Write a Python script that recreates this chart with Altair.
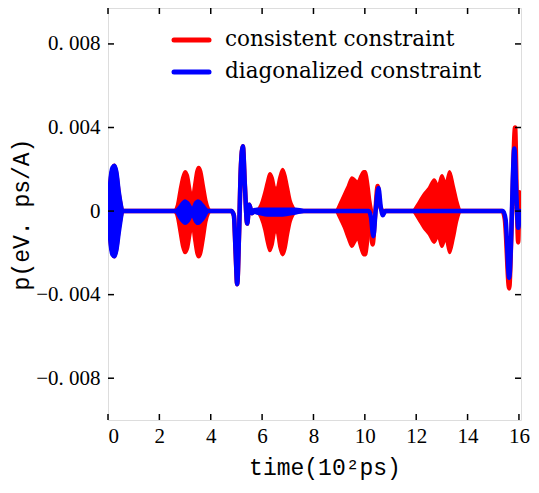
import altair as alt
import pandas as pd

# ---------------- data ----------------
SERIES = ["consistent constraint", "diagonalized constraint"]
COLORS = ["#ff0000", "#0000ff"]

X_TICKS = [0, 2, 4, 6, 8, 10, 12, 14, 16]
Y_TICKS = [-0.008, -0.004, 0.0, 0.004, 0.008]

# smooth (non-oscillating) part of each trace
red_t = [0, 4.8, 4.9, 4.97, 5.03, 5.1, 5.17, 5.25, 5.33, 5.42, 5.5, 5.6, 5.7,
         10.1, 10.2, 10.3, 10.4, 10.5, 10.6, 10.7,
         15.35, 15.45, 15.62, 15.72, 15.85, 15.92, 15.97, 16.02, 16.08]
red_p = [0, 0, -0.0002, -0.0020, -0.0035, -0.0012, 0.0020, 0.0031, 0.0012, -0.0006, 0.0003, -0.0001, 0,
         0, -0.0004, -0.0016, -0.0002, 0.0012, 0.0002, 0,
         0, -0.0004, -0.0037, -0.0005, 0.0040, 0.0003, -0.0015, 0.0009, 0.0]

blue_t = [0, 4.8, 4.9, 4.97, 5.03, 5.1, 5.17, 5.25, 5.33, 5.42, 5.5, 5.6, 5.7,
          10.15, 10.24, 10.33, 10.42, 10.53, 10.62, 10.7, 10.8,
          15.38, 15.48, 15.62, 15.7, 15.76, 15.82, 15.9, 15.97, 16.03]
blue_p = [0, 0, -0.0002, -0.0020, -0.0035, -0.0012, 0.0020, 0.0031, 0.0012, -0.0006, 0.0003, -0.0001, 0,
          0, -0.0003, -0.0012, 0.0, 0.0011, 0.0002, -0.0002, 0,
          0, -0.0004, -0.0032, -0.0012, 0.0015, 0.0030, 0.0008, -0.0008, 0]

# envelopes of the fast oscillation bursts (time, upper, lower)
red_a_t = [0, 0.05, 0.15, 0.25, 0.35, 0.45, 0.57]
red_a_hi = [0, 0.0011, 0.0020, 0.0022, 0.0018, 0.0008, 0]
red_a_lo = [0, -0.0011, -0.0020, -0.0022, -0.0018, -0.0008, 0]

red_b_t = [2.6, 2.7, 2.8, 2.9, 3.0, 3.1, 3.2, 3.28, 3.36, 3.45, 3.53, 3.62, 3.72, 3.82, 3.92, 4.0]
red_b_hi = [0, 0.0003, 0.0010, 0.0016, 0.0019, 0.0017, 0.0010, 0.0006, 0.0012, 0.0019, 0.0021, 0.0019, 0.0012, 0.0005, 0.0001, 0]
red_b_lo = [0, -0.0003, -0.0010, -0.0017, -0.0020, -0.0018, -0.0011, -0.0006, -0.0013, -0.0020, -0.0022, -0.0020, -0.0013, -0.0005, -0.0001, 0]

red_c_t = [5.8, 5.95, 6.1, 6.2, 6.3, 6.4, 6.5, 6.58, 6.68, 6.8, 6.9, 7.0, 7.1, 7.2, 7.3]
red_c_hi = [0, 0.0003, 0.0009, 0.0014, 0.0018, 0.0016, 0.0011, 0.0011, 0.0016, 0.0020, 0.0017, 0.0011, 0.0005, 0.0002, 0]
red_c_lo = [0, -0.0003, -0.0009, -0.0015, -0.0019, -0.0016, -0.0010, -0.0010, -0.0017, -0.0021, -0.0018, -0.0011, -0.0005, -0.0002, 0]

red_d_t = [8.9, 9.05, 9.2, 9.35, 9.5, 9.6, 9.72, 9.85, 9.95, 10.03, 10.12, 10.2, 10.27]
red_d_hi = [0, 0.0004, 0.0008, 0.0012, 0.0016, 0.0015, 0.0014, 0.0017, 0.0019, 0.0019, 0.0013, 0.0005, 0]
red_d_lo = [0, -0.0004, -0.0008, -0.0013, -0.0017, -0.0015, -0.0013, -0.0018, -0.0021, -0.0021, -0.0014, -0.0005, 0]

red_e_t = [11.9, 12.1, 12.3, 12.5, 12.7, 12.85, 13.0, 13.15, 13.3, 13.45, 13.58, 13.7]
red_e_hi = [0, 0.0004, 0.0008, 0.0011, 0.0015, 0.0012, 0.0017, 0.0013, 0.0019, 0.0012, 0.0005, 0]
red_e_lo = [0, -0.0004, -0.0008, -0.0011, -0.0015, -0.0012, -0.0017, -0.0013, -0.0020, -0.0013, -0.0005, 0]

blue_a_t = [0, 0.05, 0.15, 0.25, 0.35, 0.45, 0.57]
blue_a_hi = [0, 0.0012, 0.0021, 0.0022, 0.0019, 0.0009, 0]
blue_a_lo = [0, -0.0012, -0.0021, -0.0022, -0.0019, -0.0010, 0]

blue_b_t = [2.65, 2.78, 2.9, 3.0, 3.12, 3.28, 3.4, 3.5, 3.62, 3.75, 3.88]
blue_b_hi = [0, 0.0002, 0.0004, 0.0005, 0.0004, 0.0001, 0.0004, 0.0005, 0.0004, 0.0002, 0]
blue_b_lo = [0, -0.0003, -0.0005, -0.0006, -0.0005, -0.0002, -0.0005, -0.0006, -0.0005, -0.0003, 0]

blue_c_t = [5.5, 5.8, 6.3, 6.8, 7.3, 7.7]
blue_c_hi = [0, 0.0001, 0.0001, 0.0001, 0.0001, 0]
blue_c_lo = [0, -0.0001, -0.0002, -0.0002, -0.0001, 0]

# ---------------- tables ----------------
def env_df(parts):
    rows = []
    for gid, (ts, hi, lo) in enumerate(parts):
        for t, h, l in zip(ts, hi, lo):
            rows.append({"t": t, "hi": h, "lo": l, "g": gid})
    return pd.DataFrame(rows)

red_env = env_df([(red_a_t, red_a_hi, red_a_lo), (red_b_t, red_b_hi, red_b_lo),
                  (red_c_t, red_c_hi, red_c_lo), (red_d_t, red_d_hi, red_d_lo),
                  (red_e_t, red_e_hi, red_e_lo)])
blue_env = env_df([(blue_a_t, blue_a_hi, blue_a_lo), (blue_b_t, blue_b_hi, blue_b_lo),
                   (blue_c_t, blue_c_hi, blue_c_lo)])

red_line = pd.DataFrame({"t": red_t, "p": red_p})
blue_line = pd.DataFrame({"t": blue_t, "p": blue_p})
xt = pd.DataFrame({"t": X_TICKS})
yt = pd.DataFrame({"p": Y_TICKS})

W, H = 413, 412
NUM_FONT = "Liberation Serif"
TITLE_FONT = "Liberation Mono"
LEG_FONT = "DejaVu Serif"

xscale = alt.Scale(domain=[0, 16.08], nice=False, zero=False)
yscale = alt.Scale(domain=[-0.010, 0.00972], nice=False, zero=False)

xaxis = alt.Axis(values=X_TICKS, title="time(10²ps)", titleX=W / 2 + 10)
yaxis = alt.Axis(values=Y_TICKS, title="p(eV. ps/A)",
                 labelExpr="datum.value == 0 ? '0' : replace(format(datum.value, '.3f'), '.', '. ')")

red_area = alt.Chart(red_env).mark_area(color=COLORS[0], stroke=COLORS[0], strokeWidth=3,
                                        opacity=1, clip=True, interpolate="monotone").encode(
    x=alt.X("t:Q", scale=xscale, axis=xaxis),
    y=alt.Y("hi:Q", scale=yscale, axis=yaxis),
    y2="lo:Q",
    detail="g:N",
)
red_trace = alt.Chart(red_line).mark_line(color=COLORS[0], strokeWidth=4.5, strokeJoin="round",
                                          strokeCap="round", clip=True,
                                          interpolate="monotone").encode(
    x=alt.X("t:Q", scale=xscale),
    y=alt.Y("p:Q", scale=yscale),
)
blue_area = alt.Chart(blue_env).mark_area(color=COLORS[1], stroke=COLORS[1], strokeWidth=3,
                                          opacity=1, clip=True, interpolate="monotone").encode(
    x=alt.X("t:Q", scale=xscale),
    y=alt.Y("hi:Q", scale=yscale),
    y2="lo:Q",
    detail="g:N",
)
blue_trace = alt.Chart(blue_line).mark_line(color=COLORS[1], strokeWidth=4.5, strokeJoin="round",
                                            strokeCap="round", clip=True,
                                            interpolate="monotone").encode(
    x=alt.X("t:Q", scale=xscale),
    y=alt.Y("p:Q", scale=yscale),
)

# inward ticks on all four sides
tick_len = 6
tb = alt.Chart(xt).mark_rule(color="black", strokeWidth=1.5).encode(
    x=alt.X("t:Q", scale=xscale), y=alt.value(H), y2=alt.value(H - tick_len))
tt = alt.Chart(xt).mark_rule(color="black", strokeWidth=1.5).encode(
    x=alt.X("t:Q", scale=xscale), y=alt.value(0), y2=alt.value(tick_len))
tl = alt.Chart(yt).mark_rule(color="black", strokeWidth=1.5).encode(
    y=alt.Y("p:Q", scale=yscale), x=alt.value(0), x2=alt.value(tick_len))
tr = alt.Chart(yt).mark_rule(color="black", strokeWidth=1.5).encode(
    y=alt.Y("p:Q", scale=yscale), x=alt.value(W), x2=alt.value(W - tick_len))

# legend drawn inside the plot
leg_df = pd.DataFrame({"series": SERIES})
leg_layers = []
for i, (name, col) in enumerate(zip(SERIES, COLORS)):
    yy = 32 + i * 32
    one = leg_df[leg_df["series"] == name]
    leg_layers.append(alt.Chart(one).mark_rule(color=col, strokeWidth=5, strokeCap="round").encode(
        x=alt.value(66), x2=alt.value(101), y=alt.value(yy)))
    leg_layers.append(alt.Chart(one).mark_text(align="left", baseline="middle", font=LEG_FONT,
                                               fontSize=21.5, color="black").encode(
        text="series:N", x=alt.value(117), y=alt.value(yy)))

chart = alt.layer(red_area, red_trace, blue_area, blue_trace, tb, tt, tl, tr, *leg_layers).properties(
    width=W, height=H,
    autosize=alt.AutoSizeParams(type="none"),
    padding={"left": 100, "top": 0, "right": 10, "bottom": 65},
).configure_view(stroke="black", strokeWidth=2.5).configure(background="white").configure_axis(
    grid=False, ticks=False, domain=False,
    labelFont=NUM_FONT, labelFontSize=21, labelColor="black",
    titleFont=TITLE_FONT, titleFontSize=23, titleFontWeight="normal", titleColor="black",
).configure_axisX(labelPadding=5, titlePadding=10).configure_axisY(labelPadding=8, titlePadding=2)

chart.save("out.html", embed_options={"renderer": "svg", "actions": False})
